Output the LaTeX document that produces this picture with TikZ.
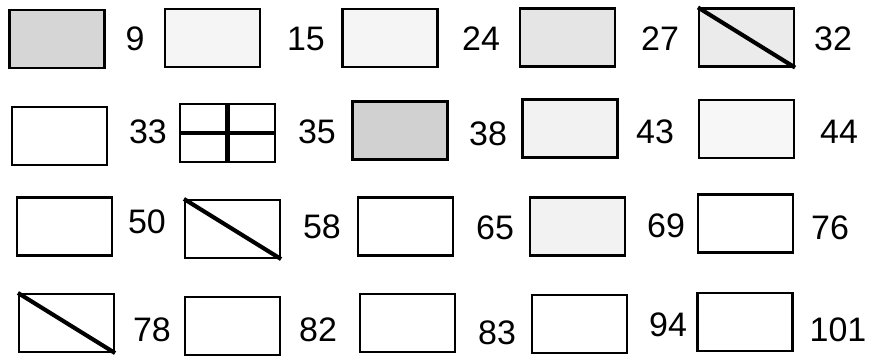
\documentclass[tikz,border=0pt]{standalone}
\usepackage{fontspec}
\setmainfont{Liberation Sans}
\begin{document}
\begin{tikzpicture}[x=0.03cm, y=-0.03cm,
    cell/.style={draw, line width=1.8pt, inner sep=0pt, minimum width=2.85cm, minimum height=1.74cm},
    num/.style={inner sep=0pt, font=\fontsize{29}{30}\selectfont},
    bar/.style={line width=3.5pt}]
  \useasboundingbox (0,0) rectangle (876,356);
  % row 1
  \node[cell, fill=black!16] (b1) at (57,39) {};
  \node[num] (n1) at (135,39) {9};
  \node[cell, fill=black!4] (b2) at (212.5,38) {};
  \node[num] (n2) at (306,39) {15};
  \node[cell, fill=black!4] (b3) at (390,38) {};
  \node[num] (n3) at (481,39) {24};
  \node[cell, fill=black!10] (b4) at (567.5,37.5) {};
  \node[num] (n4) at (660,39) {27};
  \node[cell, fill=black!8] (b5) at (746.5,37.5) {};
  \node[num] (n5) at (833,39) {32};
  \draw[bar] (b5.north west) -- (b5.south east);
  % row 2
  \node[cell] (b6) at (59.5,136) {};
  \node[num] (n6) at (148,132) {33};
  \node[cell] (b7) at (227.5,133) {};
  \node[num] (n7) at (317,132) {35};
  \draw[bar] (b7.north) -- (b7.south);
  \draw[bar] (b7.west) -- (b7.east);
  \node[cell, fill=black!18] (b8) at (400,130.5) {};
  \node[num] (n8) at (488,134) {38};
  \node[cell, fill=black!5] (b9) at (570,128.5) {};
  \node[num] (n9) at (655,132) {43};
  \node[cell, fill=black!3] (b10) at (746.5,129) {};
  \node[num] (n10) at (839,132) {44};
  % row 3
  \node[cell] (b11) at (64.5,226.5) {};
  \node[num] (n11) at (147,222) {50};
  \node[cell] (b12) at (232.5,229) {};
  \node[num] (n12) at (322,227) {58};
  \draw[bar] (b12.north west) -- (b12.south east);
  \node[cell] (b13) at (405.5,226.5) {};
  \node[num] (n13) at (495,228) {65};
  \node[cell, fill=black!5] (b14) at (577.5,226.5) {};
  \node[num] (n14) at (666,226) {69};
  \node[cell] (b15) at (745.5,223.5) {};
  \node[num] (n15) at (830,228) {76};
  % row 4
  \node[cell] (b16) at (66.5,323) {};
  \node[num] (n16) at (152,330) {78};
  \draw[bar] (b16.north west) -- (b16.south east);
  \node[cell] (b17) at (232.5,326) {};
  \node[num] (n17) at (318,330) {82};
  \node[cell] (b18) at (407.5,323) {};
  \node[num] (n18) at (497,333) {83};
  \node[cell] (b19) at (579.5,324) {};
  \node[num] (n19) at (668,325) {94};
  \node[cell] (b20) at (745,322) {};
  \node[num] (n20) at (838,330) {101};
\end{tikzpicture}
\end{document}
